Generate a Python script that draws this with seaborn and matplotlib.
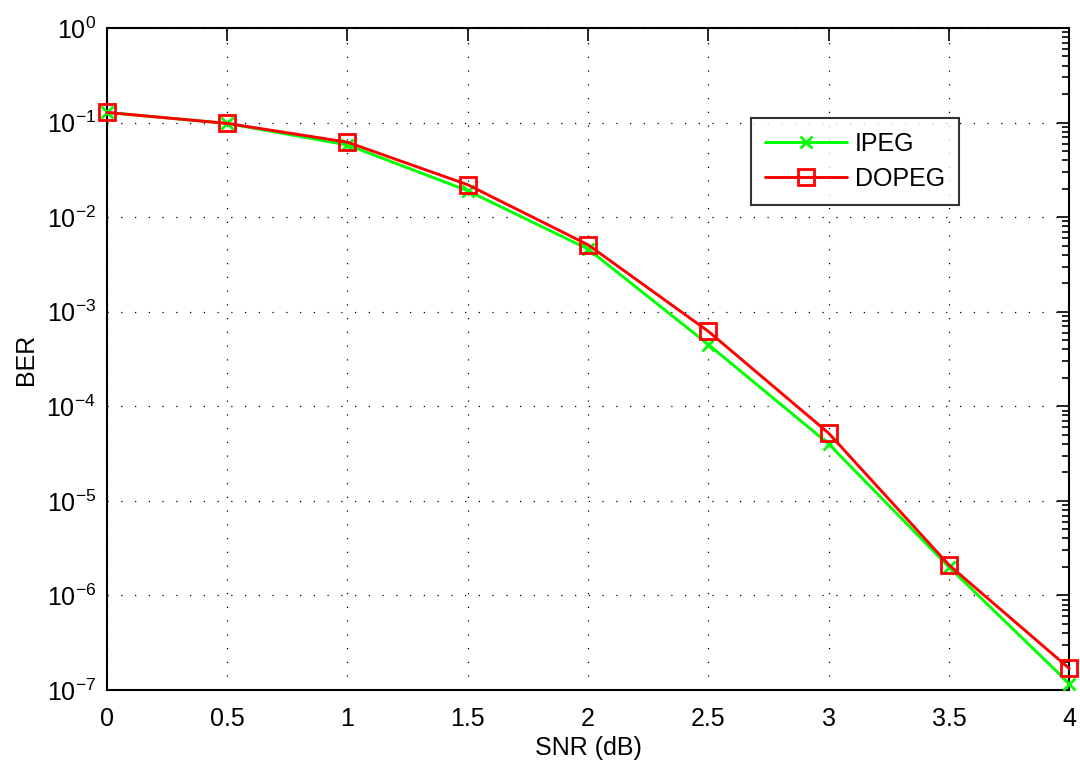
import matplotlib
matplotlib.use("Agg")
import matplotlib.pyplot as plt
import seaborn as sns
import pandas as pd
import numpy as np
from matplotlib.ticker import NullFormatter, FixedLocator

snr = [0, 0.5, 1, 1.5, 2, 2.5, 3, 3.5, 4]
ipeg = [0.128, 0.098, 0.058, 0.019, 0.0046, 4.5e-4, 4.0e-5, 2.0e-6, 1.17e-7]
dopeg = [0.128, 0.098, 0.062, 0.022, 0.0051, 6.2e-4, 5.2e-5, 2.1e-6, 1.69e-7]
series = ["IPEG", "DOPEG"]
colors = {"IPEG": "#00ff00", "DOPEG": "#ff0000"}
markers = {"IPEG": "x", "DOPEG": "s"}
xticks = [0, 0.5, 1, 1.5, 2, 2.5, 3, 3.5, 4]
xticklabels = ["0", "0.5", "1", "1.5", "2", "2.5", "3", "3.5", "4"]
yexponents = [-7, -6, -5, -4, -3, -2, -1, 0]
yticklabels = [r"$10^{%d}$" % e if e == 0 else r"$10^{-%d}$" % (-e) for e in yexponents]

df = pd.DataFrame({
    "SNR": snr * 2,
    "BER": ipeg + dopeg,
    "Code": ["IPEG"] * len(snr) + ["DOPEG"] * len(snr),
})

sns.set_style("white")
plt.rcParams['font.family'] = ['Liberation Sans', 'DejaVu Sans']
plt.rcParams['mathtext.fontset'] = 'custom'
plt.rcParams['mathtext.rm'] = 'Liberation Sans'
plt.rcParams['mathtext.it'] = 'Liberation Sans'
plt.rcParams['mathtext.sf'] = 'Liberation Sans'
plt.rcParams['text.color'] = 'black'
plt.rcParams['axes.labelcolor'] = 'black'

fig = plt.figure(figsize=(10.8, 7.67), dpi=100)
ax = fig.add_axes([0.099, 0.1004, 0.891, 0.8631])

for name in series:
    sub = df[df["Code"] == name]
    kw = dict(marker=markers[name], markeredgewidth=2, markeredgecolor=colors[name])
    if markers[name] == "s":
        kw.update(markerfacecolor="none", markersize=11)
    else:
        kw.update(markersize=9)
    sns.lineplot(data=sub, x="SNR", y="BER", color=colors[name], linewidth=2.1,
                 label=name, ax=ax, clip_on=False, zorder=5, **kw)

ax.set_yscale("log")
ax.set_xlim(0, 4)
ax.set_ylim(1e-7, 1)
ax.xaxis.set_major_locator(FixedLocator(xticks))
ax.set_xticklabels(xticklabels)
major_y = [10.0 ** e for e in yexponents]
minor_y = [m * 10.0 ** e for e in yexponents[:-1] for m in range(2, 10)]
ax.yaxis.set_major_locator(FixedLocator(major_y))
ax.set_yticklabels(yticklabels)
ax.yaxis.set_minor_locator(FixedLocator(minor_y))
ax.yaxis.set_minor_formatter(NullFormatter())
ax.xaxis.set_minor_locator(FixedLocator([]))

ax.grid(True, which="major", linestyle=(0, (1, 10)), color="black", linewidth=0.9)
ax.tick_params(axis="both", which="both", direction="in", top=True, right=True,
               labelsize=18, colors="black")
ax.tick_params(axis="both", which="major", length=9, width=1.2)
ax.tick_params(axis="y", which="minor", length=5, width=1.2)
ax.tick_params(axis="x", which="major", pad=12)
ax.tick_params(axis="y", which="major", pad=8)
for s in ax.spines.values():
    s.set_color("black")
    s.set_linewidth(1.5)

ax.set_xlabel("SNR (dB)", fontsize=18, labelpad=4, color="black")
ax.set_ylabel("BER", fontsize=18, labelpad=6, color="black")

leg = ax.legend(loc="upper left", bbox_to_anchor=(751 / 1080, 1 - 118 / 767),
                bbox_transform=fig.transFigure, fontsize=18, frameon=True,
                fancybox=False, edgecolor="black", handlelength=3.3,
                handletextpad=0.3, borderpad=0.55, labelspacing=0.45,
                borderaxespad=0)
leg.get_frame().set_linewidth(1.5)
for t in leg.get_texts():
    t.set_color("black")

fig.savefig("out.png", dpi=100)
